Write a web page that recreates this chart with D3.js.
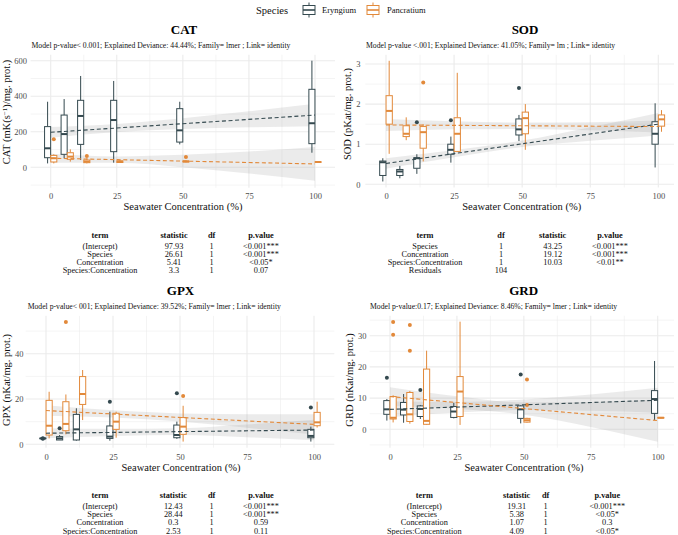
<!DOCTYPE html>
<html><head><meta charset="utf-8">
<script src="https://cdn.jsdelivr.net/npm/d3@7"></script>
<style>
body{margin:0;background:#fff}
svg{display:block}
text{font-family:"Liberation Serif","Times New Roman",serif}
</style>
</head><body>
<svg id="c" width="678" height="535"></svg>
<script>
// ---------------- DATA ----------------
const concentrations = [0, 6.25, 12.5, 25, 50, 100];
const species = ["Eryngium", "Pancratium"];
const xTicks = [0, 25, 50, 75, 100];
const xMinor = [12.5, 37.5, 62.5, 87.5];
const fitX = [0, 100];
const bandX = [0, 25, 50, 75, 100];

// box stats per concentration: [lower whisker, Q1, median, Q3, upper whisker]
const catEryngium   = [[22,54,107,229,369],[51,73,187,294,384],[41,129,289,377,514],[26,88,266,377,486],[129,142,208,330,369],[82,133,248,439,600]];
const catPancratium = [[22,30,51,67,73],[32,45,60,82,101],[22,26,32,41,51],[26,27,32,36,41],[28,30,33,35,37],[27,28,30,31,32]];
const catOutEryngium   = [];
const catOutPancratium = [[0,158],[12.5,64],[50,58]];
const catFitEryngium   = [197, 294];
const catFitPancratium = [51, 19];
const catBandEryngiumLo   = [167, 198, 215, 225, 231];
const catBandEryngiumHi   = [227, 244, 276, 315, 357];
const catBandPancratiumLo = [26, 25, 0, -35, -76];
const catBandPancratiumHi = [76, 61, 70, 89, 114];
const catYTicks = [0, 200, 400, 600];
const catYMinor = [-100, 100, 300, 500];

const sodEryngium   = [[0.07,0.22,0.55,0.58,0.65],[0.15,0.22,0.32,0.37,0.46],[0.26,0.40,0.65,0.66,0.75],[0.54,0.75,0.86,1.0,1.19],[1.08,1.23,1.37,1.63,1.73],[0.42,1.0,1.26,1.56,2.02]];
const sodPancratium = [[0.76,1.5,1.83,2.21,3.08],[1.1,1.19,1.26,1.46,1.67],[0.57,0.9,1.3,1.44,1.5],[0.81,0.82,1.26,1.66,2.78],[0.86,1.26,1.65,1.8,2.0],[1.31,1.45,1.62,1.73,1.85]];
const sodOutEryngium   = [[12.5,1.55],[25,1.6],[50,2.4]];
const sodOutPancratium = [[12.5,2.54]];
const sodFitEryngium   = [0.52, 1.5];
const sodFitPancratium = [1.48, 1.44];
const sodBandEryngiumLo   = [0.39, 0.675, 0.93, 1.085, 1.22];
const sodBandEryngiumHi   = [0.65, 0.855, 1.09, 1.425, 1.78];
const sodBandPancratiumLo = [1.33, 1.37, 1.38, 1.35, 1.29];
const sodBandPancratiumHi = [1.63, 1.57, 1.54, 1.55, 1.59];
const sodYTicks = [0, 1, 2, 3];
const sodYMinor = [0.5, 1.5, 2.5];

const gpxEryngium   = [[2.4,2.5,2.6,2.7,2.8],[1.9,1.9,2.6,3.4,4.1],[1.6,1.9,6.6,13.2,15.9],[1.6,2.6,3.4,8.1,14.4],[2.4,2.9,4.1,8.5,10.0],[1.2,2.9,3.7,6.6,7.8]];
const gpxPancratium = [[2.6,4.1,8.2,19.4,23.2],[4.4,6.0,9.0,18.8,22.0],[10.7,17.6,22.2,29.9,32.8],[2.9,6.6,10.0,13.7,14.4],[1.2,4.4,7.8,11.8,17.0],[7.4,8.2,9.7,14.1,18.8]];
const gpxOutEryngium   = [[0,2.5],[0,2.7],[6.25,7.1],[25,18.8],[50,22.5],[100,16.2]];
const gpxOutPancratium = [[6.25,54],[50,21.3]];
const gpxFitEryngium   = [4.9, 6.3];
const gpxFitPancratium = [14.9, 8.8];
const gpxBandEryngiumLo   = [2.7, 3.65, 4.1, 3.15, 1.8];
const gpxBandEryngiumHi   = [7.1, 6.85, 7.1, 8.75, 10.8];
const gpxBandPancratiumLo = [12.6, 11.8, 10.05, 7.3, 4.3];
const gpxBandPancratiumHi = [17.2, 15.0, 13.65, 13.3, 13.3];
const gpxYTicks = [0, 20, 40];
const gpxYMinor = [10, 30, 50];

const grdEryngium   = [[2.8,4.8,6.4,9.2,9.7],[2.1,4.6,6.3,8.6,11.3],[3.3,4.1,6.5,7.5,7.8],[3.5,3.8,5.7,7.3,8.5],[1.9,3.5,6.4,7.5,7.8],[3.0,5.1,9.7,12.4,21.9]];
const grdPancratium = [[2.2,3.3,3.7,10.5,10.9],[1.8,2.5,4.8,11.8,12.3],[1.4,1.6,2.7,19.3,25.2],[1.4,4.1,12.1,16.9,34.5],[2.1,2.3,2.9,3.5,3.7],[3.5,3.6,3.7,3.8,3.9]];
const grdOutEryngium   = [[0,16.5],[12.5,12.6],[50,17.6]];
const grdOutPancratium = [[0,34.4],[0,30.3],[6.25,33.4],[6.25,25.2],[50,7.8],[50,16.0]];
const grdFitEryngium   = [6.4, 9.3];
const grdFitPancratium = [10.5, 2.8];
const grdBandEryngiumLo   = [3.9, 5.4, 6.15, 5.95, 5.3];
const grdBandEryngiumHi   = [8.9, 8.8, 9.55, 11.15, 13.3];
const grdBandPancratiumLo = [7.5, 6.6, 4.65, 0.75, -4.0];
const grdBandPancratiumHi = [13.5, 10.6, 8.65, 8.75, 9.6];
const grdYTicks = [0, 10, 20, 30];
const grdYMinor = [-5, 5, 15, 25, 35];

// tables
const catTerms = ["(Intercept)","Species","Concentration","Species:Concentration"];
const catStat  = ["97.93","26.61","5.41","3.3"];
const catDf    = ["1","1","1","1"];
const catP     = ["<0.001***","<0.001***","<0.05*","0.07"];
const sodTerms = ["Species","Concentration","Species:Concentration","Residuals"];
const sodDf    = ["1","1","1","104"];
const sodStat  = ["43.25","19.12","10.03",""];
const sodP     = ["<0.001***","<0.001***","<0.01**",""];
const gpxTerms = ["(Intercept)","Species","Concentration","Species:Concentration"];
const gpxStat  = ["12.43","28.44","0.3","2.53"];
const gpxDf    = ["1","1","1","1"];
const gpxP     = ["<0.001***","<0.001***","0.59","0.11"];
const grdTerms = ["(Intercept)","Species","Concentration","Species:Concentration"];
const grdStat  = ["19.31","5.38","1.07","4.09"];
const grdDf    = ["1","1","1","1"];
const grdP     = ["<0.001***","<0.05*","0.3","<0.05*"];

// ---------------- STYLE / LAYOUT ----------------
const colors = {Eryngium: "#34494F", Pancratium: "#E2893A"};
const svg = d3.select("#c");
const dodge = 1.17, boxW = 2.3;

const panels = [
  {title:"CAT", tx:184, ty:34, sub:"Model p-value< 0.001; Explained Deviance: 44.44%; Family= lmer ; Link= identity", sx:31.5, sy:45.7,
   x0:50.7, x100:315, y0:167.3, yRef:600, yRefPx:60.7, yLim:[-115,634], maxRight:335,
   yTicks:catYTicks, yMinor:catYMinor, yLabX:27, yTitleX:6.5, yTitleY:112,
   xLabY:195.7, xTitleX:183, xTitleY:206.7,
   yTitle:["CAT (mK(s","\u22121",")/mg. prot.)"],
   boxes:[catEryngium,catPancratium], outs:[catOutEryngium,catOutPancratium], fits:[catFitEryngium,catFitPancratium],
   bandLo:[catBandEryngiumLo,catBandPancratiumLo], bandHi:[catBandEryngiumHi,catBandPancratiumHi]},
  {title:"SOD", tx:525, ty:34, sub:"Model p-value <.001; Explained Deviance: 41.05%; Family= lm ; Link= identity", sx:366, sy:45.7,
   x0:386, x100:658.3, y0:184.3, yRef:3, yRefPx:64, yLim:[-0.08,3.23], maxRight:674,
   yTicks:sodYTicks, yMinor:sodYMinor, yLabX:360.5, yTitleX:347.5, yTitleY:114,
   xLabY:195.7, xTitleX:521.7, xTitleY:206.7,
   yTitle:["SOD (pKat/mg. prot.)"],
   boxes:[sodEryngium,sodPancratium], outs:[sodOutEryngium,sodOutPancratium], fits:[sodFitEryngium,sodFitPancratium],
   bandLo:[sodBandEryngiumLo,sodBandPancratiumLo], bandHi:[sodBandEryngiumHi,sodBandPancratiumHi]},
  {title:"GPX", tx:180.5, ty:295.3, sub:"Model p-value< 001; Explained Deviance: 39.52%; Family= lmer ; Link= identity", sx:27.7, sy:307,
   x0:46, x100:314, y0:444.3, yRef:40, yRefPx:353.7, yLim:[-1.5,56.7], maxRight:335,
   yTicks:gpxYTicks, yMinor:gpxYMinor, yLabX:23.5, yTitleX:6.5, yTitleY:380,
   xLabY:456.7, xTitleX:181, xTitleY:467.7,
   yTitle:["GPX (nKat/mg. prot.)"],
   boxes:[gpxEryngium,gpxPancratium], outs:[gpxOutEryngium,gpxOutPancratium], fits:[gpxFitEryngium,gpxFitPancratium],
   bandLo:[gpxBandEryngiumLo,gpxBandPancratiumLo], bandHi:[gpxBandEryngiumHi,gpxBandPancratiumHi]},
  {title:"GRD", tx:523.7, ty:295.3, sub:"Model p-value:0.17; Explained Deviance: 8.46%; Family= lmer ; Link= identity", sx:370, sy:307,
   x0:390, x100:657.7, y0:429.3, yRef:30, yRefPx:335.7, yLim:[-5.9,36.4], maxRight:674,
   yTicks:grdYTicks, yMinor:grdYMinor, yLabX:366.5, yTitleX:349, yTitleY:380,
   xLabY:456.7, xTitleX:524, xTitleY:467.7,
   yTitle:["GRD (nKat/mg. prot.)"],
   boxes:[grdEryngium,grdPancratium], outs:[grdOutEryngium,grdOutPancratium], fits:[grdFitEryngium,grdFitPancratium],
   bandLo:[grdBandEryngiumLo,grdBandPancratiumLo], bandHi:[grdBandEryngiumHi,grdBandPancratiumHi]}
];

function drawPanel(p){
  const x = d3.scaleLinear().domain([0,100]).range([p.x0,p.x100]);
  const y = d3.scaleLinear().domain([0,p.yRef]).range([p.y0,p.yRefPx]);
  const left = x(-7.6), right = Math.min(x(107.6), p.maxRight);
  const top = y(p.yLim[1]), bottom = y(p.yLim[0]);
  const g = svg.append("g");

  // grid
  g.selectAll(null).data(p.yMinor).join("line")
    .attr("x1",left).attr("x2",right).attr("y1",d=>y(d)).attr("y2",d=>y(d))
    .attr("stroke","#ebebeb").attr("stroke-width",0.55);
  g.selectAll(null).data(xMinor).join("line")
    .attr("y1",top).attr("y2",bottom).attr("x1",d=>x(d)).attr("x2",d=>x(d))
    .attr("stroke","#ebebeb").attr("stroke-width",0.55);
  g.selectAll(null).data(p.yTicks).join("line")
    .attr("x1",left).attr("x2",right).attr("y1",d=>y(d)).attr("y2",d=>y(d))
    .attr("stroke","#ebebeb").attr("stroke-width",1.1);
  g.selectAll(null).data(xTicks).join("line")
    .attr("y1",top).attr("y2",bottom).attr("x1",d=>x(d)).attr("x2",d=>x(d))
    .attr("stroke","#ebebeb").attr("stroke-width",1.1);

  // ribbons
  species.forEach((s,j)=>{
    const area = d3.area().x((d,i)=>x(bandX[i])).y0((d,i)=>y(p.bandLo[j][i])).y1((d,i)=>y(p.bandHi[j][i])).curve(d3.curveMonotoneX);
    g.append("path").datum(bandX).attr("d",area).attr("fill","#999999").attr("fill-opacity",0.2);
  });

  // boxes
  const bw = x(boxW)-x(0);
  species.forEach((s,j)=>{
    const off = j===0 ? -dodge : dodge;
    const col = colors[s];
    const bg = g.append("g");
    p.boxes[j].forEach((b,i)=>{
      const cx = x(concentrations[i]+off);
      bg.append("line").attr("x1",cx).attr("x2",cx).attr("y1",y(b[0])).attr("y2",y(b[1])).attr("stroke",col).attr("stroke-width",1);
      bg.append("line").attr("x1",cx).attr("x2",cx).attr("y1",y(b[3])).attr("y2",y(b[4])).attr("stroke",col).attr("stroke-width",1);
      bg.append("rect").attr("x",cx-bw/2).attr("width",bw).attr("y",y(b[3])).attr("height",Math.max(0.5,y(b[1])-y(b[3])))
        .attr("fill","#fff").attr("stroke",col).attr("stroke-width",1);
      bg.append("line").attr("x1",cx-bw/2).attr("x2",cx+bw/2).attr("y1",y(b[2])).attr("y2",y(b[2])).attr("stroke",col).attr("stroke-width",2);
    });
    p.outs[j].forEach(o=>{
      bg.append("circle").attr("cx",x(o[0]+off)).attr("cy",y(o[1])).attr("r",2).attr("fill",col);
    });
  });

  // fits
  species.forEach((s,j)=>{
    const line = d3.line().x((d,i)=>x(fitX[i])).y(d=>y(d));
    g.append("path").datum(p.fits[j]).attr("d",line).attr("fill","none")
      .attr("stroke",colors[s]).attr("stroke-width",1.1).attr("stroke-dasharray","4,2.6");
  });

  // axes
  const ax = g.append("g").attr("transform",`translate(0,${p.xLabY-3.1})`)
    .call(d3.axisBottom(x).tickValues(xTicks).tickSize(0).tickPadding(0).tickFormat(d3.format("d")));
  ax.select(".domain").remove();
  ax.selectAll("text").attr("fill","#4d4d4d").style("font-size","8.5px").style("font-family","Liberation Serif");
  const ay = g.append("g").attr("transform",`translate(${p.yLabX},0)`)
    .call(d3.axisLeft(y).tickValues(p.yTicks).tickSize(0).tickPadding(0).tickFormat(d3.format("d")));
  ay.select(".domain").remove();
  ay.selectAll("text").attr("fill","#4d4d4d").style("font-size","8.5px").style("font-family","Liberation Serif");

  // titles
  g.append("text").attr("x",p.tx).attr("y",p.ty).attr("text-anchor","middle")
    .style("font-size","13px").style("font-weight","bold").attr("fill","#000").text(p.title);
  g.append("text").attr("x",p.sx).attr("y",p.sy).attr("dy","0.32em")
    .style("font-size","7.7px").attr("fill","#111").text(p.sub);
  g.append("text").attr("x",p.xTitleX).attr("y",p.xTitleY).attr("dy","0.35em").attr("text-anchor","middle")
    .style("font-size","10.5px").attr("fill","#111").text("Seawater Concentration (%)");
  const yt = g.append("text").attr("transform",`translate(${p.yTitleX},${p.yTitleY}) rotate(-90)`)
    .attr("dy","0.35em").attr("text-anchor","middle").style("font-size","10.5px").attr("fill","#111");
  yt.append("tspan").text(p.yTitle[0]);
  if (p.yTitle.length>1){
    yt.append("tspan").attr("dy",-3.5).style("font-size","7px").text(p.yTitle[1]);
    yt.append("tspan").attr("dy",3.5).text(p.yTitle[2]);
  }
}
panels.forEach(drawPanel);

// tables
function drawTable(cols, yHeader){
  const g = svg.append("g").style("font-size","8.3px");
  cols.forEach(c=>{
    g.append("text").attr("x",c.x).attr("y",yHeader).attr("dy","0.35em").attr("text-anchor","middle")
      .style("font-weight","bold").attr("fill","#111").text(c.h);
    g.selectAll(null).data(c.v).join("text")
      .attr("x",c.x).attr("y",(d,i)=>yHeader+11.3+i*8.1).attr("dy","0.35em").attr("text-anchor","middle")
      .attr("fill","#111").text(d=>d);
  });
}
drawTable([{x:100,h:"term",v:catTerms},{x:174,h:"statistic",v:catStat},{x:211.7,h:"df",v:catDf},{x:261,h:"p.value",v:catP}], 234.7);
drawTable([{x:425,h:"term",v:sodTerms},{x:501,h:"df",v:sodDf},{x:552.7,h:"statistic",v:sodStat},{x:610,h:"p.value",v:sodP}], 234.7);
drawTable([{x:100,h:"term",v:gpxTerms},{x:173.3,h:"statistic",v:gpxStat},{x:211.7,h:"df",v:gpxDf},{x:261,h:"p.value",v:gpxP}], 495);
drawTable([{x:424.3,h:"term",v:grdTerms},{x:516.7,h:"statistic",v:grdStat},{x:545.7,h:"df",v:grdDf},{x:607.3,h:"p.value",v:grdP}], 495);

// legend
const lg = svg.append("g");
lg.append("text").attr("x",256).attr("y",10).attr("dy","0.35em").style("font-size","10.5px").attr("fill","#111").text("Species");
const keyX = [303, 367], labX = [322, 387];
species.forEach((s,j)=>{
  const col = colors[s], kx = keyX[j];
  lg.append("line").attr("x1",kx+6).attr("x2",kx+6).attr("y1",2.5).attr("y2",17.5).attr("stroke",col).attr("stroke-width",1);
  lg.append("rect").attr("x",kx).attr("y",5.5).attr("width",12).attr("height",9).attr("fill","#fff").attr("stroke",col).attr("stroke-width",1);
  lg.append("line").attr("x1",kx).attr("x2",kx+12).attr("y1",10).attr("y2",10).attr("stroke",col).attr("stroke-width",1.6);
  lg.append("text").attr("x",labX[j]).attr("y",10).attr("dy","0.35em").style("font-size","8.5px").attr("fill","#111").text(s);
});
</script>
</body></html>
